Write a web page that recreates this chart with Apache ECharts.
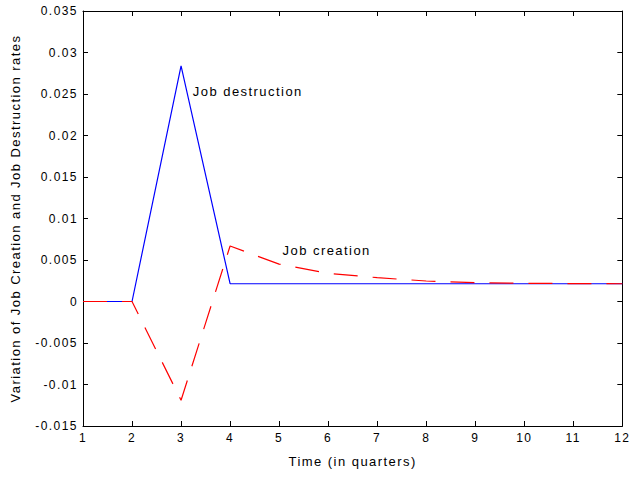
<!DOCTYPE html>
<html>
<head>
<meta charset="utf-8">
<script src="https://cdn.jsdelivr.net/npm/echarts@6/dist/echarts.min.js"></script>
<style>
  html, body { margin: 0; padding: 0; background: #fff; }
  #chart { width: 632px; height: 477px; }
  /* airy letter spacing on every chart text */
  #chart svg text { letter-spacing: 1.45px; }
</style>
</head>
<body>
<div id="chart"></div>
<script>
// Quarters after the shock
const quarters = [1, 2, 3, 4, 5, 6, 7, 8, 9, 10, 11, 12];
// Response of the job destruction rate
const jobDestruction = [0, 0, 0.0284, 0.00214, 0.00214, 0.00214, 0.00214, 0.00214, 0.00214, 0.00214, 0.00214, 0.00214];
// Response of the job creation rate
const jobCreation = [0, 0, -0.0119, 0.00669, 0.00450, 0.00340, 0.00287, 0.00247, 0.00227, 0.00219, 0.00216, 0.00214];

const FONT = 'Liberation Sans';
const pairs = (ys) => quarters.map((q, i) => [q, ys[i]]);

const chart = echarts.init(document.getElementById('chart'), null, { renderer: 'svg' });
const tickStyle = { show: true, inside: true, length: 5, lineStyle: { color: '#000', width: 1 } };
const lineStyle = { color: '#000', width: 1 };

// Text annotation anchored at a data coordinate
const note = (text, coord) => ({
  symbol: 'circle', symbolSize: 1,
  itemStyle: { color: 'rgba(0,0,0,0)' },
  label: { show: true, formatter: text, position: 'right', distance: 0,
           fontFamily: FONT, fontSize: 13, color: '#000' },
  data: [{ coord }]
});

chart.setOption({
  animation: false,
  backgroundColor: '#fff',
  grid: { left: 83, right: 9, top: 11, bottom: 51, containLabel: false },
  xAxis: [
    {
      type: 'value', min: 1, max: 12, interval: 1,
      name: 'Time (in quarters)', nameLocation: 'middle', nameGap: 29,
      nameTextStyle: { fontFamily: FONT, fontSize: 13, color: '#000' },
      axisLine: { show: true, onZero: false, lineStyle },
      axisTick: tickStyle,
      axisLabel: { fontFamily: FONT, fontSize: 12, color: '#000', margin: 6 },
      splitLine: { show: false }
    },
    {
      type: 'value', min: 1, max: 12, interval: 1, position: 'top',
      axisLine: { show: true, onZero: false, lineStyle },
      axisTick: tickStyle, axisLabel: { show: false }, splitLine: { show: false }
    }
  ],
  yAxis: [
    {
      type: 'value', min: -0.015, max: 0.035, interval: 0.005,
      name: 'Variation of Job Creation and Job Destruction rates',
      nameLocation: 'middle', nameGap: 61, nameRotate: 90,
      nameTextStyle: { fontFamily: FONT, fontSize: 13, color: '#000' },
      axisLine: { show: true, onZero: false, lineStyle },
      axisTick: tickStyle,
      axisLabel: { fontFamily: FONT, fontSize: 12, color: '#000', margin: 5 },
      splitLine: { show: false }
    },
    {
      type: 'value', min: -0.015, max: 0.035, interval: 0.005, position: 'right',
      axisLine: { show: true, onZero: false, lineStyle },
      axisTick: tickStyle, axisLabel: { show: false }, splitLine: { show: false }
    }
  ],
  series: [
    {
      name: 'Job destruction', type: 'line', data: pairs(jobDestruction),
      symbol: 'none', lineStyle: { color: '#0000ff', width: 1.2 },
      markPoint: note('Job destruction', [3.23, 0.0253])
    },
    {
      name: 'Job creation', type: 'line', data: pairs(jobCreation),
      symbol: 'none', lineStyle: { color: '#ff0000', width: 1.2, type: [24, 15] },
      markPoint: note('Job creation', [5.06, 0.0062])
    }
  ]
});
</script>
</body>
</html>
